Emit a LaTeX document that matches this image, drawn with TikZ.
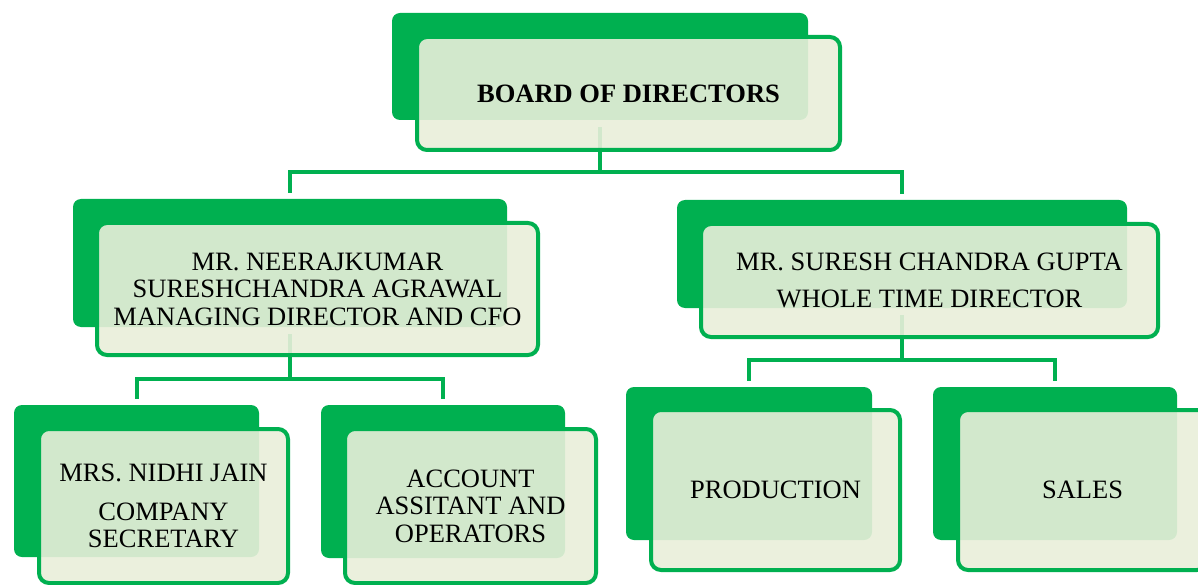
\documentclass[tikz,border=0pt]{standalone}
\usepackage{fontspec}
\setmainfont{Liberation Serif}
\usepackage{xcolor}
\usepackage{tikz}
\usetikzlibrary{positioning}
\definecolor{orggreen}{HTML}{00B050}
\definecolor{orgpale}{HTML}{E9EFDA}
\tikzstyle{back} = [rectangle, fill=orggreen, rounded corners=8pt, inner sep=0pt]
\tikzstyle{front} = [rectangle, draw=orggreen, line width=4pt, fill=orgpale,
    fill opacity=0.9, text opacity=1, rounded corners=10pt, align=center,
    inner sep=0pt, font=\fontsize{26.5}{27.5}\selectfont]
\tikzstyle{conn} = [draw=orggreen, line width=4pt]

\begin{document}
\begin{tikzpicture}[x=1pt, y=-1pt]
  \fill [white] (0,0) rectangle (1198,585);
  \useasboundingbox (0,0) rectangle (1198,585);

  % Back plates
  \node [back, minimum width=416pt, minimum height=107pt] (bodb) at (600,66.5) {};
  \node [back, minimum width=434pt, minimum height=128pt] (mngb) at (290,263) {};
  \node [back, minimum width=450pt, minimum height=108pt] (wtdb) at (902,254) {};
  \node [back, minimum width=245pt, minimum height=152pt] (csb) at (136.5,481) {};
  \node [back, minimum width=244pt, minimum height=153pt] (accb) at (443,481.5) {};
  \node [back, minimum width=246pt, minimum height=153pt] (prodb) at (749,463.5) {};
  \node [back, minimum width=244pt, minimum height=153pt] (salesb) at (1055,463.5) {};

  % Connectors
  \path [conn] ([yshift=-7pt]bodb.south) -- ++(0,45) -| ([yshift=6pt]mngb.north);
  \path [conn] ([yshift=-7pt]bodb.south) -- ++(0,45) -| ([yshift=6pt]wtdb.north);
  \path [conn] ([yshift=-7pt]mngb.south) -- ++(0,45) -| ([yshift=6pt]csb.north);
  \path [conn] ([yshift=-7pt]mngb.south) -- ++(0,45) -| ([yshift=6pt]accb.north);
  \path [conn] ([yshift=-7pt]wtdb.south) -- ++(0,45) -| ([yshift=6pt]prodb.north);
  \path [conn] ([yshift=-7pt]wtdb.south) -- ++(0,45) -| ([yshift=6pt]salesb.north);

  % Front boxes
  \node [front, minimum width=423pt, minimum height=113pt] (bod) at (628.5,93.5)
    {\textbf{BOARD OF DIRECTORS}};
  \node [front, minimum width=441pt, minimum height=132pt] (mng) at (317.5,289)
    {MR. NEERAJKUMAR\\ SURESHCHANDRA AGRAWAL\\ MANAGING DIRECTOR AND CFO};
  \node [front, minimum width=457pt, minimum height=113pt] (wtd) at (929.5,280.5)
    {MR. SURESH CHANDRA GUPTA\\[10pt] WHOLE TIME DIRECTOR};
  \node [front, minimum width=249pt, minimum height=154pt] (cs) at (163.5,506)
    {MRS. NIDHI JAIN\\[11pt] COMPANY\\ SECRETARY};
  \node [front, minimum width=251pt, minimum height=154pt] (acc) at (470.5,506)
    {ACCOUNT\\ ASSITANT AND\\ OPERATORS};
  \node [front, minimum width=249pt, minimum height=160pt] (prod) at (775.5,490)
    {PRODUCTION};
  \node [front, minimum width=249pt, minimum height=160pt] (sales) at (1082.5,490)
    {SALES};

\end{tikzpicture}
\end{document}
